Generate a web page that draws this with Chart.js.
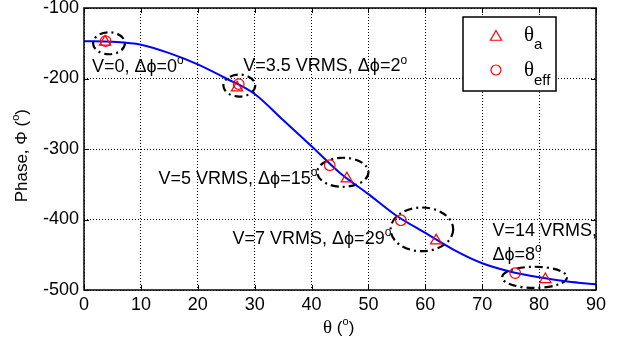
<!DOCTYPE html>
<html>
<head>
<meta charset="utf-8">
<script src="https://cdn.jsdelivr.net/npm/chart.js@4/dist/chart.umd.min.js"></script>
<style>body{margin:0;background:#fff}</style>
</head>
<body>
<canvas id="myChart" width="621" height="345"></canvas>
<script>
// fitted curve
var curveTheta = [0, 5, 10, 15, 20, 25, 30, 35, 40, 45, 50, 55, 60, 65, 70, 75, 80, 85, 90];
var curvePhase = [-147, -148, -152, -164, -180, -200, -222, -259, -296, -334, -364, -395, -419, -443, -462, -474, -482, -488, -492];

// measured points
var thetaA = [3.7, 26.9, 46.2, 61.9, 81.1];
var phaseA = [-148, -213, -342, -430, -485];
var thetaEff = [3.8, 27.2, 43.2, 55.7, 75.8];
var phaseEff = [-147, -208, -323, -401, -476];

var xTicks = [0, 10, 20, 30, 40, 50, 60, 70, 80, 90];
var yTicks = [-500, -400, -300, -200, -100];

// dash-dot ellipses round each voltage step: centre and half-size in data units
var ringX = [4.4, 27.3, 45.5, 59.4, 79.2];
var ringY = [-150, -210, -333, -414, -482];
var ringW = [2.8, 2.8, 4.5, 5.5, 5.7];
var ringH = [15.6, 15.6, 20.6, 31, 15];

// labels: ^ = superscript, text anchored (left, middle) at data point
var noteText = ['V=0, \u0394\u03d5=0^o', 'V=3.5 VRMS, \u0394\u03d5=2^o', 'V=5 VRMS, \u0394\u03d5=15^o', 'V=7 VRMS, \u0394\u03d5=29^o', 'V=14 VRMS,', '\u0394\u03d5=8^o'];
var noteX = [1.4, 28.0, 13.1, 26.1, 71.8, 71.8];
var noteY = [-184, -183, -343, -428, -416, -450];

var font = '"Liberation Sans", Arial, sans-serif';
var fontSize = 18;

function toPoints(xs, ys) {
    return xs.map((x, i) => ({x: x, y: ys[i]}));
}

function richText(ctx, str, x, y, size) {
    // draws "abc^o" with small superscript pieces, left aligned, middle baseline
    ctx.textBaseline = 'middle';
    ctx.textAlign = 'left';
    var parts = str.split('^');
    ctx.font = size + 'px ' + font;
    ctx.fillText(parts[0], x, y);
    var w = ctx.measureText(parts[0]).width;
    for (var i = 1; i < parts.length; i++) {
        ctx.font = Math.round(size * 0.65) + 'px ' + font;
        ctx.fillText(parts[i].charAt(0), x + w, y - size * 0.35);
        w += ctx.measureText(parts[i].charAt(0)).width;
        ctx.font = size + 'px ' + font;
        var rest = parts[i].slice(1);
        ctx.fillText(rest, x + w, y);
        w += ctx.measureText(rest).width;
    }
}

function triangle(ctx, x, y, r) {
    ctx.beginPath();
    ctx.moveTo(x, y - r);
    ctx.lineTo(x + r * 0.866, y + r * 0.5);
    ctx.lineTo(x - r * 0.866, y + r * 0.5);
    ctx.closePath();
    ctx.stroke();
}

var extras = {
    id: 'extras',
    beforeDatasetsDraw(chart) {
        var ctx = chart.ctx, xs = chart.scales.x, ys = chart.scales.y;
        ctx.save();
        ctx.strokeStyle = '#000';
        ctx.lineWidth = 2.2;
        ctx.setLineDash([8, 4, 2, 4]);
        ringX.forEach((cx, i) => {
            var px = xs.getPixelForValue(cx), py = ys.getPixelForValue(ringY[i]);
            var rx = Math.abs(xs.getPixelForValue(cx + ringW[i]) - px);
            var ry = Math.abs(ys.getPixelForValue(ringY[i] + ringH[i]) - py);
            ctx.beginPath();
            ctx.ellipse(px, py, rx, ry, 0, 0, Math.PI * 2);
            ctx.stroke();
        });
        ctx.restore();
    },
    afterDraw(chart) {
        var ctx = chart.ctx, a = chart.chartArea, xs = chart.scales.x, ys = chart.scales.y;
        ctx.save();
        // frame + inward ticks
        ctx.strokeStyle = '#000';
        ctx.lineWidth = 1.5;
        ctx.strokeRect(a.left, a.top, a.right - a.left, a.bottom - a.top);
        ctx.lineWidth = 1;
        ctx.beginPath();
        xTicks.forEach(v => {
            var p = Math.round(xs.getPixelForValue(v)) + 0.5;
            ctx.moveTo(p, a.bottom); ctx.lineTo(p, a.bottom - 5);
            ctx.moveTo(p, a.top); ctx.lineTo(p, a.top + 5);
        });
        yTicks.forEach(v => {
            var p = Math.round(ys.getPixelForValue(v)) + 0.5;
            ctx.moveTo(a.left, p); ctx.lineTo(a.left + 5, p);
            ctx.moveTo(a.right, p); ctx.lineTo(a.right - 5, p);
        });
        ctx.stroke();

        // notes
        ctx.fillStyle = '#000';
        noteText.forEach((t, i) => {
            richText(ctx, t, xs.getPixelForValue(noteX[i]), ys.getPixelForValue(noteY[i]), fontSize);
        });

        // axis titles
        ctx.textBaseline = 'middle';
        ctx.font = '19px "Liberation Serif", serif';
        ctx.textAlign = 'left';
        var tx = 323, ty = 328;
        ctx.fillText('\u03b8', tx, ty);
        var w = ctx.measureText('\u03b8 ').width;
        richText(ctx, '(^o)', tx + w, ty, 17);

        ctx.save();
        ctx.translate(22, 154);
        ctx.rotate(-Math.PI / 2);
        ctx.font = '17px ' + font;
        var s1 = 'Phase, \u03a6 (';
        var full = ctx.measureText(s1 + 'o)').width;
        richText(ctx, s1 + '^o)', -full / 2, 0, 17);
        ctx.restore();

        // legend box
        var lx = 463, ly = 17, lw = 93, lh = 74;
        ctx.fillStyle = '#fff';
        ctx.fillRect(lx, ly, lw, lh);
        ctx.lineWidth = 1.5;
        ctx.strokeStyle = '#000';
        ctx.strokeRect(lx, ly, lw, lh);
        ctx.strokeStyle = 'red';
        ctx.lineWidth = 1.2;
        triangle(ctx, 496, 37, 6.5);
        ctx.beginPath();
        ctx.arc(496, 70, 5, 0, Math.PI * 2);
        ctx.stroke();
        ctx.fillStyle = '#000';
        ctx.textAlign = 'left';
        ctx.textBaseline = 'middle';
        ctx.font = '21px "Liberation Serif", serif';
        ctx.fillText('\u03b8', 524, 35);
        ctx.fillText('\u03b8', 524, 70);
        ctx.font = '15px ' + font;
        ctx.fillText('a', 534, 45);
        ctx.fillText('eff', 534, 81);
        ctx.restore();
    }
};

var ctx = document.getElementById('myChart').getContext('2d');
new Chart(ctx, {
    type: 'scatter',
    data: {
        datasets: [{
            label: 'fit',
            data: toPoints(curveTheta, curvePhase),
            showLine: true,
            borderColor: '#0000ff',
            borderWidth: 2,
            pointRadius: 0,
            cubicInterpolationMode: 'monotone',
            order: 3
        }, {
            label: '\u03b8a',
            data: toPoints(thetaA, phaseA),
            pointStyle: 'triangle',
            pointRadius: 6.5,
            borderColor: 'red',
            backgroundColor: 'rgba(0,0,0,0)',
            borderWidth: 1.2,
            order: 1
        }, {
            label: '\u03b8eff',
            data: toPoints(thetaEff, phaseEff),
            pointStyle: 'circle',
            pointRadius: 5.3,
            borderColor: 'red',
            backgroundColor: 'rgba(0,0,0,0)',
            borderWidth: 1.2,
            order: 2
        }]
    },
    options: {
        responsive: false,
        animation: false,
        devicePixelRatio: 1,
        layout: {padding: {top: 8, right: 25, left: 0, bottom: 0}},
        plugins: {legend: {display: false}, tooltip: {enabled: false}},
        scales: {
            x: {
                type: 'linear', min: 0, max: 90,
                afterBuildTicks: s => { s.ticks = xTicks.map(v => ({value: v})); },
                afterFit: s => { s.height = 55; s.paddingLeft = 0; s.paddingRight = 0; },
                ticks: {color: '#000', padding: 4, font: {family: font, size: fontSize}},
                grid: {color: '#000', lineWidth: 1, drawTicks: false},
                border: {display: false, dash: [1, 2]}
            },
            y: {
                type: 'linear', min: -500, max: -100,
                afterBuildTicks: s => { s.ticks = yTicks.map(v => ({value: v})); },
                afterFit: s => { s.width = 84; s.paddingTop = 0; s.paddingBottom = 0; },
                ticks: {color: '#000', padding: 5, font: {family: font, size: fontSize}},
                grid: {color: '#000', lineWidth: 1, drawTicks: false},
                border: {display: false, dash: [1, 2]}
            }
        }
    },
    plugins: [extras]
});
</script>
</body>
</html>
